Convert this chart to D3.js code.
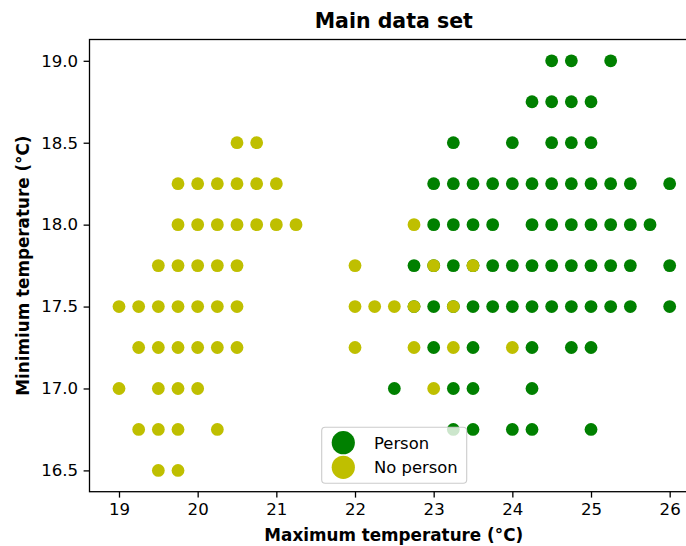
<!DOCTYPE html>
<html>
<head>
<meta charset="utf-8">
<script src="https://cdn.jsdelivr.net/npm/d3@7"></script>
<style>
  body { margin: 0; background: #fff; }
  svg { display: block; font-family: 'DejaVu Sans', sans-serif; }
</style>
</head>
<body>
<div id="chart"></div>
<script>
// [max temperature, min temperature]
const personPoints = [
  [24.5, 19], [24.75, 19], [25.25, 19],
  [24.25, 18.75], [24.5, 18.75], [24.75, 18.75], [25, 18.75],
  [23.25, 18.5], [24, 18.5], [24.5, 18.5], [24.75, 18.5], [25, 18.5],
  [23, 18.25], [23.25, 18.25], [23.5, 18.25], [23.75, 18.25], [24, 18.25], [24.25, 18.25],
  [24.5, 18.25], [24.75, 18.25], [25, 18.25], [25.25, 18.25], [25.5, 18.25], [26, 18.25],
  [23, 18], [23.25, 18], [23.5, 18], [23.75, 18], [24.25, 18], [24.5, 18],
  [24.75, 18], [25, 18], [25.25, 18], [25.5, 18], [25.75, 18],
  [22.75, 17.75], [23, 17.75], [23.25, 17.75], [23.5, 17.75], [23.75, 17.75], [24, 17.75],
  [24.25, 17.75], [24.5, 17.75], [24.75, 17.75], [25, 17.75], [25.25, 17.75], [25.5, 17.75], [26, 17.75],
  [22.75, 17.5], [23, 17.5], [23.25, 17.5], [23.5, 17.5], [23.75, 17.5], [24, 17.5],
  [24.25, 17.5], [24.5, 17.5], [24.75, 17.5], [25, 17.5], [25.25, 17.5], [25.5, 17.5], [26, 17.5],
  [23, 17.25], [23.5, 17.25], [24.25, 17.25], [24.75, 17.25], [25, 17.25],
  [22.5, 17], [23.25, 17], [23.5, 17], [24.25, 17],
  [23.25, 16.75], [23.5, 16.75], [24, 16.75], [24.25, 16.75], [25, 16.75]
];

const noPersonPoints = [
  [20.5, 18.5], [20.75, 18.5],
  [19.75, 18.25], [20, 18.25], [20.25, 18.25], [20.5, 18.25], [20.75, 18.25], [21, 18.25],
  [19.75, 18], [20, 18], [20.25, 18], [20.5, 18], [20.75, 18], [21, 18], [21.25, 18], [22.75, 18],
  [19.5, 17.75], [19.75, 17.75], [20, 17.75], [20.25, 17.75], [20.5, 17.75], [22, 17.75], [23, 17.75], [23.5, 17.75],
  [19, 17.5], [19.25, 17.5], [19.5, 17.5], [19.75, 17.5], [20, 17.5], [20.25, 17.5], [20.5, 17.5],
  [22, 17.5], [22.25, 17.5], [22.5, 17.5], [22.75, 17.5], [23.25, 17.5],
  [19.25, 17.25], [19.5, 17.25], [19.75, 17.25], [20, 17.25], [20.25, 17.25], [20.5, 17.25],
  [22, 17.25], [22.75, 17.25], [23.25, 17.25], [24, 17.25],
  [19, 17], [19.5, 17], [19.75, 17], [20, 17], [23, 17],
  [19.25, 16.75], [19.5, 16.75], [19.75, 16.75], [20.25, 16.75],
  [19.5, 16.5], [19.75, 16.5]
];

const xTicks = [19, 20, 21, 22, 23, 24, 25, 26];
const yTicks = [16.5, 17.0, 17.5, 18.0, 18.5, 19.0];
const seriesNames = ['Person', 'No person'];
const seriesColors = ['#008000', '#bfbf00'];

const W = 686, H = 546;
const plot = { left: 89.5, right: 698, top: 39.5, bottom: 491.7 };

const svg = d3.select('#chart').append('svg').attr('width', W).attr('height', H);

const x = d3.scaleLinear().domain([18.625, 26.36]).range([plot.left, plot.right]);
const y = d3.scaleLinear().domain([16.37, 19.13]).range([plot.bottom, plot.top]);

// points: person first, no person drawn on top
[personPoints, noPersonPoints].forEach((pts, i) => {
  svg.append('g')
    .selectAll('circle')
    .data(pts)
    .enter()
    .append('circle')
    .attr('cx', (d) => x(d[0]))
    .attr('cy', (d) => y(d[1]))
    .attr('r', 6.4)
    .attr('fill', seriesColors[i]);
});

// frame
svg.append('rect')
  .attr('x', plot.left).attr('y', plot.top)
  .attr('width', plot.right - plot.left).attr('height', plot.bottom - plot.top)
  .attr('fill', 'none').attr('stroke', '#000').attr('stroke-width', 1.3);

// X axis
const xAxis = svg.append('g')
  .attr('transform', `translate(0,${plot.bottom})`)
  .call(d3.axisBottom(x).tickValues(xTicks).tickFormat(d3.format('d')).tickSize(5.9).tickPadding(5.5));
xAxis.select('.domain').remove();
xAxis.selectAll('line').attr('stroke', '#000').attr('stroke-width', 1.3);
xAxis.selectAll('text').attr('font-size', 16.6).attr('fill', '#000').attr('font-family', 'DejaVu Sans');

// Y axis
const yAxis = svg.append('g')
  .attr('transform', `translate(${plot.left},0)`)
  .call(d3.axisLeft(y).tickValues(yTicks).tickFormat(d3.format('.1f')).tickSize(5.9).tickPadding(5.5));
yAxis.select('.domain').remove();
yAxis.selectAll('line').attr('stroke', '#000').attr('stroke-width', 1.3);
yAxis.selectAll('text').attr('font-size', 16.6).attr('fill', '#000').attr('font-family', 'DejaVu Sans');

// labels
svg.append('text')
  .attr('x', (plot.left + plot.right) / 2).attr('y', 28.3)
  .attr('text-anchor', 'middle').attr('font-weight', 'bold').attr('font-size', 20.5)
  .text('Main data set');

svg.append('text')
  .attr('x', (plot.left + plot.right) / 2).attr('y', 540.5)
  .attr('text-anchor', 'middle').attr('font-weight', 'bold').attr('font-size', 16.8)
  .text('Maximum temperature (°C)');

svg.append('text')
  .attr('transform', `translate(28.5,${(plot.top + plot.bottom) / 2}) rotate(-90)`)
  .attr('text-anchor', 'middle').attr('font-weight', 'bold').attr('font-size', 16.8)
  .text('Minimium temperature (°C)');

// legend
const legend = svg.append('g');
legend.append('rect')
  .attr('x', 321.7).attr('y', 427.3).attr('width', 145).attr('height', 56)
  .attr('rx', 3.5).attr('fill', '#fff').attr('fill-opacity', 0.8)
  .attr('stroke', '#cccccc').attr('stroke-width', 1.1);
seriesNames.forEach((name, i) => {
  legend.append('circle')
    .attr('cx', 343.3).attr('cy', 442.7 + i * 24.6).attr('r', 11.6)
    .attr('fill', seriesColors[i]);
  legend.append('text')
    .attr('x', 374).attr('y', 448.5 + i * 24.6)
    .attr('font-size', 16.4).attr('fill', '#000')
    .text(name);
});
</script>
</body>
</html>
